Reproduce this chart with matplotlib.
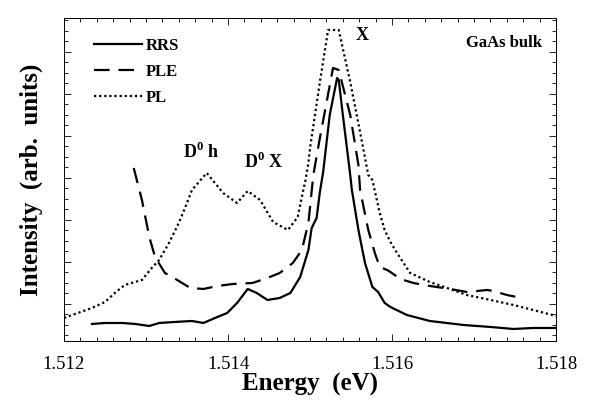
import matplotlib
matplotlib.use('Agg')
import matplotlib.pyplot as plt
from matplotlib.ticker import MultipleLocator

plt.rcParams['font.family'] = 'Liberation Serif'
plt.rcParams['mathtext.fontset'] = 'custom'
plt.rcParams['mathtext.rm'] = 'Liberation Serif:bold'
plt.rcParams['mathtext.bf'] = 'Liberation Serif:bold'

# values (intensity in arbitrary units)
rrs_e = [1.51234, 1.51250, 1.51271, 1.51287, 1.51304, 1.51316, 1.51335, 1.51356,
         1.51370, 1.51387, 1.51399, 1.51411, 1.51424, 1.51435, 1.51448, 1.51463,
         1.51476, 1.51488, 1.51498, 1.51502, 1.51508, 1.51512, 1.51516, 1.51524,
         1.51533, 1.51535, 1.51540, 1.51549, 1.51551, 1.51559, 1.51567, 1.51576,
         1.51583, 1.51591, 1.51598, 1.51618, 1.51646, 1.51687, 1.51720, 1.51748,
         1.51772, 1.51800]
rrs_i = [17, 18, 18, 17, 15, 18, 19, 20,
         18, 24, 28, 38, 52, 48, 41, 43,
         48, 64, 91, 113, 123, 149, 169, 226,
         263, 261, 226, 166, 151, 111, 78, 54,
         49, 38, 34, 26, 20, 16, 14, 12,
         13, 13]

ple_e = [1.51285, 1.51295, 1.51304, 1.51311, 1.51323, 1.51332, 1.51344, 1.51354,
         1.51370, 1.51387, 1.51406, 1.51430, 1.51448, 1.51463, 1.51479, 1.51490,
         1.51498, 1.51504, 1.51512, 1.51528, 1.51535, 1.51549, 1.51559, 1.51561,
         1.51571, 1.51579, 1.51585, 1.51594, 1.51598, 1.51610, 1.51626, 1.51646,
         1.51671, 1.51691, 1.51704, 1.51716, 1.51723, 1.51740, 1.51752]
ple_i = [173, 141, 104, 84, 68, 64, 58, 53,
         52, 55, 57, 58, 63, 68, 78, 91,
         118, 166, 203, 273, 271, 226, 176, 151,
         111, 88, 74, 71, 69, 62, 58, 55,
         52, 49, 50, 51, 50, 46, 44]

pl_e = [1.51200, 1.51234, 1.51250, 1.51262, 1.51274, 1.51295, 1.51307, 1.51316,
        1.51328, 1.51340, 1.51348, 1.51356, 1.51374, 1.51394, 1.51411, 1.51424,
        1.51439, 1.51455, 1.51473, 1.51485, 1.51491, 1.51494, 1.51498, 1.51500,
        1.51512, 1.51522, 1.51535, 1.51549, 1.51561, 1.51571, 1.51576, 1.51585,
        1.51591, 1.51598, 1.51606, 1.51622, 1.51646, 1.51667, 1.51691, 1.51720,
        1.51748, 1.51772, 1.51800]
pl_i = [23, 33, 39, 48, 56, 61, 73, 81,
        98, 118, 134, 151, 168, 148, 138, 150,
        141, 119, 111, 124, 148, 159, 178, 193,
        259, 311, 311, 259, 209, 166, 161, 128,
        111, 99, 88, 68, 59, 53, 46, 41,
        36, 31, 25]

fig = plt.figure(figsize=(5.9, 4.04), dpi=100)
ax = fig.add_axes([0.1085, 0.156, 0.834, 0.7995])

ax.plot(rrs_e, rrs_i, color='black', lw=1.6, ls='-', label='RRS')
ax.plot(ple_e, ple_i, color='black', lw=1.6, ls=(0, (7, 4)), label='PLE')
ax.plot(pl_e, pl_i, color='black', lw=1.6, ls=(0, (1, 1.3)), label='PL')

ax.set_xlim(1.512, 1.518)
ax.set_ylim(0, 323)
ax.set_xticks([1.512, 1.514, 1.516, 1.518])
ax.set_xticklabels(['1.512', '1.514', '1.516', '1.518'])
ax.xaxis.set_minor_locator(MultipleLocator(0.0002))
ax.yaxis.set_major_locator(MultipleLocator(42, offset=37))
ax.yaxis.set_minor_locator(MultipleLocator(10.5, offset=5.5))
ax.tick_params(which='both', direction='in', top=True, right=True, width=0.6)
ax.tick_params(which='major', length=5, labelsize=13.5, pad=11)
ax.tick_params(which='minor', length=3)
ax.tick_params(axis='y', labelleft=False)
for s in ax.spines.values():
    s.set_linewidth(0.7)

ax.set_xlabel('Energy  (eV)', fontsize=18, fontweight='bold', labelpad=0)
ax.set_ylabel('Intensity  (arb.  units)', fontsize=18, fontweight='bold', labelpad=12)

ax.text(1.51556, 301, 'X', fontsize=13, fontweight='bold')
ax.text(1.51690, 294, 'GaAs bulk', fontsize=12, fontweight='bold')
ax.text(1.51345, 183, r'D$^{0}$ h', fontsize=13, fontweight='bold')
ax.text(1.51420, 173, r'D$^{0}$ X', fontsize=13, fontweight='bold')

leg = ax.legend(loc='upper left', bbox_to_anchor=(0.03, 0.985), frameon=False,
                handlelength=2.9, labelspacing=0.6, handletextpad=0.2,
                prop={'family': 'Liberation Serif', 'weight': 'bold', 'size': 12})

fig.savefig('out.png', dpi=100)
